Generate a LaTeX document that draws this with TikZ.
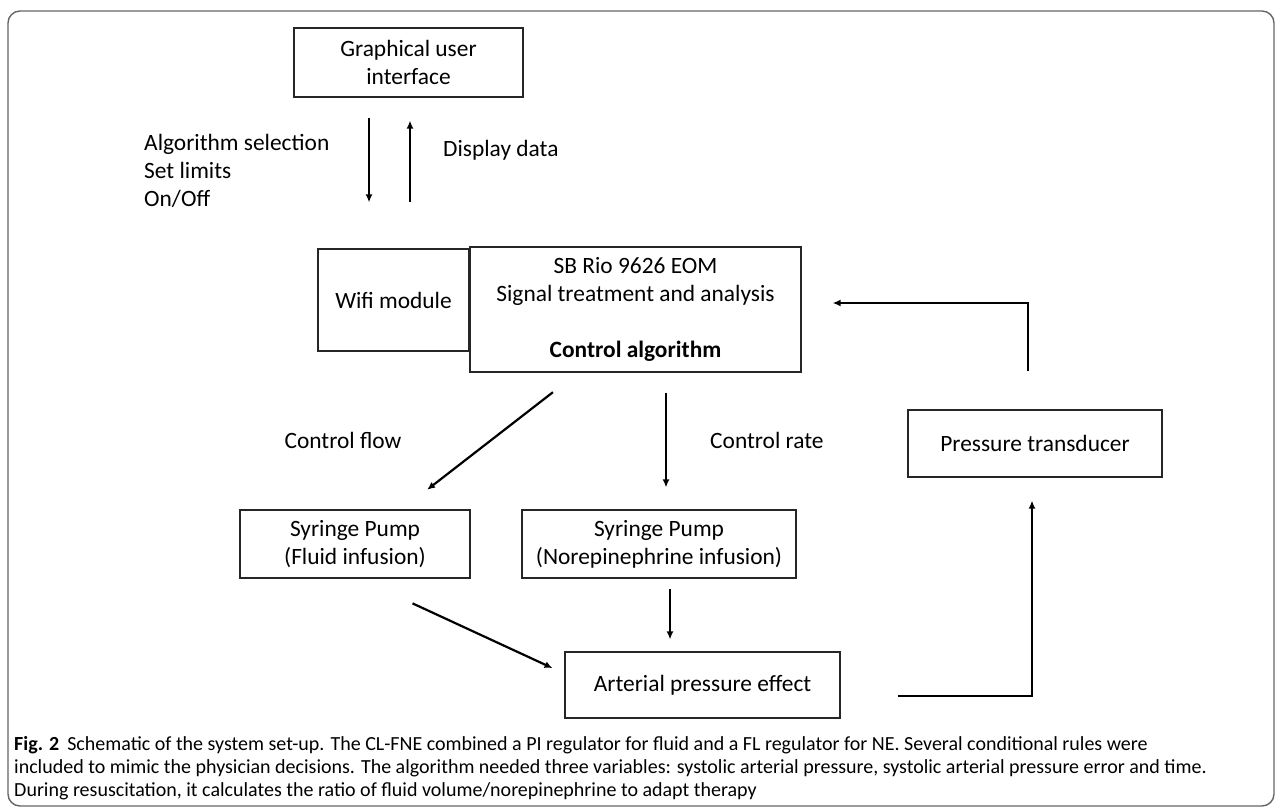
\documentclass[tikz,border=0pt]{standalone}
\usepackage{fontspec}
\setmainfont{Carlito}
\usetikzlibrary{arrows.meta,positioning}

\begin{document}
\begin{tikzpicture}[x=1pt, y=1pt,
    > = {Latex[length=8pt,width=7pt]},
    box/.style={draw=black!85, line width=1.2pt, rectangle, align=center, inner sep=0pt,
        font=\fontsize{23.4}{28}\selectfont},
    lbl/.style={align=left, inner sep=0pt, font=\fontsize{23.4}{28}\selectfont},
    flow/.style={->, line width=2.2pt},
    back/.style={->, line width=2.8pt}]
    \useasboundingbox (0,0) rectangle (1282,-810);
    \draw[black!60, line width=1.4pt, rounded corners=12pt] (8,-11) rectangle (1274,-806);

    % boxes
    \node[box, minimum width=229pt, minimum height=69pt] (gui) at (408.5,-62.5) {Graphical user\\interface};
    \node[box, minimum width=151pt, minimum height=102pt] (wifi) at (393.5,-300) {Wifi module};
    \node[box, minimum width=331pt, minimum height=125pt] (sbrio) at (635.5,-309.5)
        {SB Rio 9626 EOM\\Signal treatment and analysis\\[28pt]\textbf{Control algorithm}};
    \node[box, minimum width=230pt, minimum height=68pt] (fluid) at (355,-544) {Syringe Pump\\(Fluid infusion)};
    \node[box, minimum width=274pt, minimum height=68pt] (nepump) at (659,-544) {Syringe Pump\\(Norepinephrine infusion)};
    \node[box, minimum width=275pt, minimum height=66pt] (ape) at (702.5,-685) {Arterial pressure effect};
    \node[box, minimum width=254pt, minimum height=67pt] (ptrans) at (1035,-443.5) {Pressure transducer};

    % labels
    \node[lbl, anchor=west] (cmds) at (144,-171) {Algorithm selection\\Set limits\\On/Off};
    \node[lbl, anchor=west] (disp) at (443,-150) {Display data};
    \node[lbl] (cflow) at (343,-440) {Control flow};
    \node[lbl, anchor=west] (crate) at (710,-440) {Control rate};

    % connectors
    \draw[flow, shorten <=20pt, shorten >=46pt] ([xshift=-39.5pt]gui.south) -- ([xshift=-24.5pt]wifi.north);
    \draw[flow, shorten <=46pt, shorten >=23pt] ([xshift=16.5pt]wifi.north) -- ([xshift=1.5pt]gui.south);
    \draw[flow, shorten <=32pt, shorten >=32pt] ([xshift=-57.3pt]sbrio.south) -- ([xshift=46.8pt]fluid.north);
    \draw[flow, shorten <=20pt, shorten >=22pt] ([xshift=30.5pt]sbrio.south) -- ([xshift=7pt]nepump.north);
    \draw[flow, shorten <=10pt, shorten >=12pt] ([xshift=11pt]nepump.south) -- ([xshift=-32.5pt]ape.north);
    \draw[flow, shorten <=59pt, shorten >=13pt] ([xshift=4pt]fluid.south) -- ([yshift=11.4pt]ape.west);
    \draw[back, shorten <=57pt, shorten >=23pt] ([yshift=-11pt]ape.east) -| ([xshift=-3pt]ptrans.south);
    \draw[back, shorten <=38pt, shorten >=31pt] ([xshift=-7pt]ptrans.north) |- ([yshift=6.5pt]sbrio.east);

    % caption
    \node[anchor=north west, align=left, inner sep=0pt, font=\fontsize{20}{23}\selectfont] (capt) at (14,-736)
        {\textbf{Fig. 2}\hspace{8pt}Schematic of the system set-up. The CL-FNE combined a PI regulator for fluid and a FL regulator for NE. Several conditional rules were\\
        included to mimic the physician decisions. The algorithm needed three variables: systolic arterial pressure, systolic arterial pressure error and time.\\
        During resuscitation, it calculates the ratio of fluid volume/norepinephrine to adapt therapy};
\end{tikzpicture}
\end{document}
